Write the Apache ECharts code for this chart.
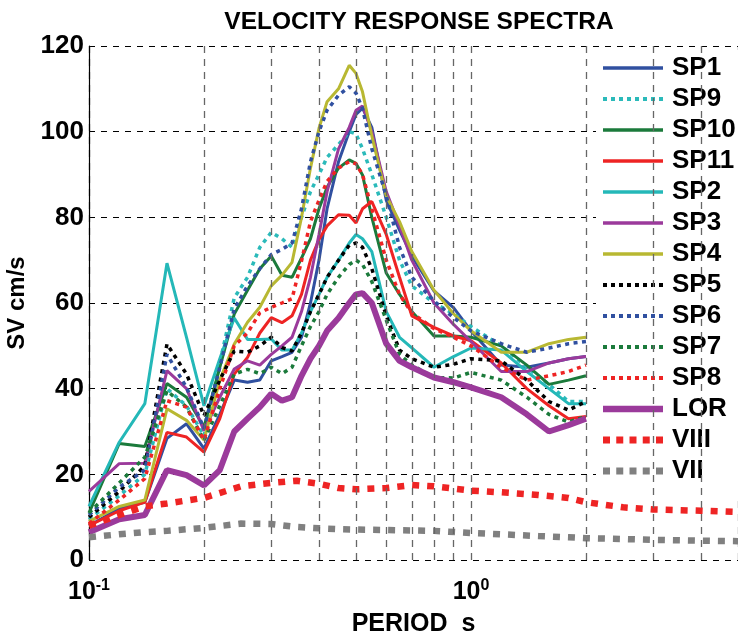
<!DOCTYPE html>
<html>
<head>
<meta charset="utf-8">
<script src="https://cdn.jsdelivr.net/npm/echarts@6/dist/echarts.min.js"></script>
<style>
  html, body { margin: 0; padding: 0; background: #fff; }
  #chart { width: 738px; height: 633px; }
</style>
</head>
<body>
<div id="chart"></div>
<script>
// periods (s) used by the recorded spectra
var periods = [0.1, 0.12, 0.14, 0.16, 0.18, 0.2, 0.22, 0.24, 0.26, 0.28, 0.3, 0.32, 0.34, 0.36, 0.38, 0.4, 0.42, 0.45, 0.48, 0.5, 0.52, 0.55, 0.6, 0.65, 0.7, 0.8, 0.9, 1.0, 1.2, 1.4, 1.6, 1.8, 2.0];

var sp1  = [8, 12, 13.5, 28.4, 31.8, 26, 34, 42, 41.5, 42, 46.5, 47.5, 48.5, 52, 60, 70, 82, 93, 100, 104, 105.5, 101, 84, 77, 71, 62.8, 58.9, 53.5, 45.5, 45, 46, 47, 47.5];
var sp9  = [9.5, 15, 20, 40, 36, 29, 46, 61.2, 66, 73, 76.5, 75, 73, 80, 86, 90, 94, 97, 100, 99.5, 96, 90, 80, 70, 64, 60, 57.5, 54.5, 50, 45, 41, 37, 37];
var sp10 = [11, 27.2, 26.5, 41.2, 38, 31, 45, 57.4, 63, 68, 71, 66.5, 66, 70.5, 75, 82, 87, 91.5, 93.4, 92.6, 89.9, 80, 67, 62, 58, 52.3, 52.3, 52, 50, 45.5, 41, 42, 43];
var sp11 = [8, 11.5, 13.5, 29.8, 28.7, 25.2, 33, 43.4, 47.3, 53, 56.6, 55.4, 57, 62, 70, 74.8, 78, 80.6, 80.5, 78.7, 82, 83.7, 76, 66, 57, 54.3, 52.3, 51.2, 46, 40, 36, 33, 33.5];
var sp2  = [12.5, 27.5, 36.5, 69.3, 52, 36, 47, 56.5, 51.5, 51.5, 51.6, 49, 49, 53, 58, 62, 66, 70, 74, 76, 75, 72, 58, 52, 49.5, 45, 47.5, 49.5, 49, 44, 40, 36.5, 36.5];
var sp3  = [16, 22.5, 22.6, 44.2, 40, 30.2, 38, 44.6, 46.5, 45.5, 48, 50, 52, 58, 66, 76, 86, 96, 101, 105, 106, 100, 86, 78, 70, 60, 55, 51, 44, 44, 46, 47, 47.5];
var sp4  = [9, 12.5, 14, 35.3, 32.6, 28, 42, 50.4, 55.5, 59, 64, 66.5, 69.5, 80, 91.5, 100.8, 107, 110, 115.5, 113.6, 109.3, 99, 85, 79, 72, 63, 57.5, 53.5, 48.5, 48.5, 50.5, 51.5, 52];
var sp5  = [10, 16, 22, 50.4, 43.4, 33.7, 42, 48.8, 48.5, 50, 52, 49.6, 48.8, 53, 58, 62, 66, 70, 73.5, 74, 73, 68, 57, 49, 47, 45, 45.7, 47, 46.5, 42, 37, 35, 37];
var sp6  = [10.5, 17, 21, 48, 40.3, 30.7, 45, 58.6, 64, 68, 71.3, 72.5, 74, 82, 93, 100, 105, 108.5, 110.5, 109, 105.4, 96, 85, 73, 66, 60.5, 56.6, 53.5, 50.5, 48.5, 49.5, 50.5, 51];
var sp7  = [11, 18, 24, 39.5, 35.7, 27.9, 36, 43.4, 44.5, 43.5, 45, 43.5, 45, 50, 54.5, 58, 62, 66, 69, 70, 69, 65, 56, 48, 45.5, 42.6, 42.5, 43.8, 42, 38, 34, 32.2, 33.5];
var sp8  = [8.5, 14, 19, 37.2, 35.7, 28, 40, 50, 53, 57.7, 59, 60, 61, 69.8, 79, 84, 88.4, 91.5, 93, 92.5, 90, 82, 70, 62, 57.7, 54, 52, 50, 45, 42, 43, 44, 45.5];
var lor  = [6.5, 9.5, 10.5, 21, 19.8, 17.4, 21, 30, 33, 35.7, 38.8, 37.2, 38, 43, 47, 50, 53.5, 56.5, 60, 62, 62.3, 60, 50.5, 46.5, 45, 42.6, 41.5, 40.3, 38, 34, 30, 31.5, 33];

// code spectra, intensity VIII and VII
var codePeriods = [0.1, 0.12, 0.14, 0.16, 0.2, 0.25, 0.3, 0.35, 0.4, 0.45, 0.5, 0.6, 0.7, 0.8, 1.0, 1.2, 1.5, 1.8, 2.0, 2.5, 3, 4, 5];
var viii = [8, 10.5, 12.5, 13.2, 14.5, 17.2, 18, 18.5, 17.8, 16.8, 16.5, 16.8, 17.5, 17.2, 16.2, 15.8, 15.2, 14.5, 13.5, 12.3, 11.8, 11.5, 11.2];
var vii  = [5.3, 6, 6.5, 6.8, 7.5, 8.5, 8.4, 7.7, 7.4, 7.2, 7.1, 7, 6.9, 6.8, 6.3, 6, 5.6, 5.3, 5.1, 4.9, 4.7, 4.5, 4.4];

// log grid lines between decades
var minorGrid = [0.2, 0.3, 0.4, 0.5, 0.6, 0.7, 0.8, 0.9, 2, 3, 4];

var FONT = '"Liberation Sans", Arial, sans-serif';
var DOT = [4, 4.5];
var BIGDOT = [7, 8];

function pairs(xs, ys) {
  return xs.map(function (x, i) { return [x, ys[i]]; });
}

// legend swatch drawn as a path in a 60x14 box (corner points fix the box)
function swatch(w, dash, gap) {
  var y = 7 - w / 2;
  var p = 'path://M0,0L0,0M60,14L60,14';
  if (!dash) return p + 'M0,' + y + 'h60v' + w + 'h-60z';
  for (var x = 0; x + dash <= 60.01; x += dash + gap) {
    p += 'M' + x + ',' + y + 'h' + dash + 'v' + w + 'h-' + dash + 'z';
  }
  return p;
}

var defs = [
  { name: 'SP1',  data: sp1,  color: '#3050A0', width: 3, type: 'solid' },
  { name: 'SP9',  data: sp9,  color: '#2BBABA', width: 3.5, type: DOT },
  { name: 'SP10', data: sp10, color: '#1B7A3B', width: 3, type: 'solid' },
  { name: 'SP11', data: sp11, color: '#EE2424', width: 3, type: 'solid' },
  { name: 'SP2',  data: sp2,  color: '#24B8B8', width: 3, type: 'solid' },
  { name: 'SP3',  data: sp3,  color: '#9B3A9B', width: 3, type: 'solid' },
  { name: 'SP4',  data: sp4,  color: '#B8B832', width: 3, type: 'solid' },
  { name: 'SP5',  data: sp5,  color: '#000000', width: 3.5, type: DOT },
  { name: 'SP6',  data: sp6,  color: '#3050A0', width: 3.5, type: DOT },
  { name: 'SP7',  data: sp7,  color: '#1B7A3B', width: 3.5, type: DOT },
  { name: 'SP8',  data: sp8,  color: '#EE2424', width: 3.5, type: DOT },
  { name: 'LOR',  data: lor,  color: '#9B3A9B', width: 6, type: 'solid' },
  { name: 'VIII', data: viii, color: '#EE2424', width: 6.5, type: BIGDOT, x: codePeriods },
  { name: 'VII',  data: vii,  color: '#808080', width: 6.5, type: BIGDOT, x: codePeriods }
];

var series = defs.map(function (d) {
  return {
    name: d.name,
    type: 'line',
    symbol: 'none',
    z: 3,
    data: pairs(d.x || periods, d.data),
    lineStyle: { color: d.color, width: d.width, type: d.type },
    itemStyle: { color: d.color }
  };
});

series.push({
  type: 'line',
  data: [],
  z: 1,
  silent: true,
  markLine: {
    silent: true,
    symbol: 'none',
    animation: false,
    label: { show: false },
    lineStyle: { color: '#666', width: 1.3, type: [7, 6] },
    data: minorGrid.map(function (v) { return { xAxis: v }; })
  }
});

function legendIcon(d) {
  if (d.type === 'solid') return swatch(d.width + 0.5);
  if (d.type === BIGDOT) return swatch(7, 7, 6.25);
  return swatch(4, 4, 4);
}

var myChart = echarts.init(document.getElementById('chart'));

var option = {
  animation: false,
  backgroundColor: '#fff',
  title: {
    text: 'VELOCITY RESPONSE SPECTRA',
    left: 414,
    textAlign: 'center',
    top: 5,
    textStyle: { fontFamily: FONT, fontWeight: 'bold', fontSize: 24.5, color: '#000' }
  },
  grid: { left: 89, right: 0, top: 46, bottom: 73, containLabel: false, outerBoundsMode: 'none' },
  legend: {
    orient: 'vertical',
    left: 596,
    top: 50,
    padding: [5, 3, 12, 7],
    backgroundColor: '#fff',
    itemWidth: 60,
    itemHeight: 14,
    itemGap: 5,
    symbolKeepAspect: false,
    textStyle: { fontFamily: FONT, fontWeight: 'bold', fontSize: 26, color: '#000', padding: [0, 0, 0, 4] },
    data: defs.map(function (d) {
      return {
        name: d.name,
        icon: legendIcon(d),
        itemStyle: { color: d.color, borderWidth: 0 }
      };
    })
  },
  xAxis: {
    type: 'log',
    logBase: 10,
    min: 0.1,
    max: 5,
    name: 'PERIOD  s',
    nameLocation: 'middle',
    nameGap: 52,
    nameTextStyle: { fontFamily: FONT, fontWeight: 'bold', fontSize: 25, color: '#000' },
    axisLine: { show: false },
    axisTick: { show: false },
    axisLabel: {
      margin: 18,
      showMaxLabel: false,
      formatter: function (v) {
        var e = Math.log10(v);
        if (Math.abs(e - Math.round(e)) > 1e-6) return '';
        return '{b|10}{s|' + Math.round(e) + '}';
      },
      rich: {
        b: { fontFamily: FONT, fontWeight: 'bold', fontSize: 25, color: '#000' },
        s: { fontFamily: FONT, fontWeight: 'bold', fontSize: 16, color: '#000', verticalAlign: 'top', padding: [0, 0, 12, 0] }
      }
    },
    splitLine: { show: true, lineStyle: { color: '#666', width: 1.3, type: [7, 6] } }
  },
  yAxis: {
    type: 'value',
    min: 0,
    max: 120,
    interval: 20,
    name: 'SV cm/s',
    nameLocation: 'middle',
    nameGap: 60,
    nameTextStyle: { fontFamily: FONT, fontWeight: 'bold', fontSize: 24, color: '#000' },
    axisLine: { show: true, lineStyle: { color: '#000', width: 1.2 } },
    axisTick: { show: false },
    axisLabel: { margin: 5, fontFamily: FONT, fontWeight: 'bold', fontSize: 26, color: '#000' },
    splitLine: { show: true, lineStyle: { color: '#000', width: 1, type: [6, 6] } }
  },
  series: series
};

myChart.setOption(option);
</script>
</body>
</html>
